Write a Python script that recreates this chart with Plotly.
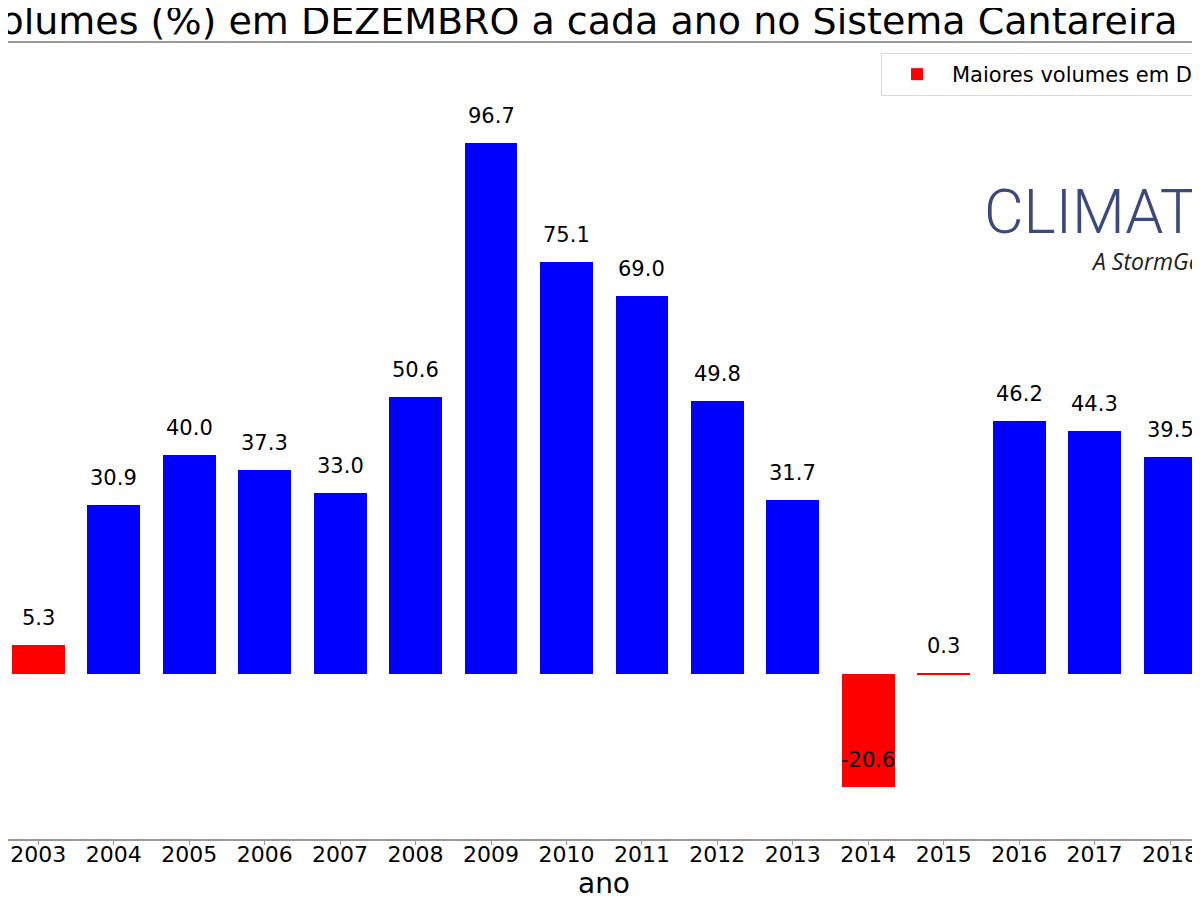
import plotly.graph_objects as go

# dados
anos = [2003, 2004, 2005, 2006, 2007, 2008, 2009, 2010, 2011, 2012,
        2013, 2014, 2015, 2016, 2017, 2018]
volumes = [5.3, 30.9, 40.0, 37.3, 33.0, 50.6, 96.7, 75.1, 69.0, 49.8,
           31.7, -20.6, 0.3, 46.2, 44.3, 39.5]
anos_destaque = [2003, 2014, 2015]

titulo = "Maiores volumes (%) em DEZEMBRO a cada ano no Sistema Cantareira"
legenda = "Maiores volumes em DEZEMBRO"

# the page has an 8px body margin, so the figure is 8px smaller
OFF = 8
W, H = 1200 - OFF, 900 - OFF
top, bottom = 35, 61
plot_h = H - top - bottom
FONT = "DejaVu Sans"


def px(x):
    # screen x -> paper x
    return (x - OFF) / W


def py(y):
    # screen y -> paper y
    return 1 - (y - OFF - top) / plot_h


red_x = [a for a in anos if a in anos_destaque]
red_y = [v for a, v in zip(anos, volumes) if a in anos_destaque]
blue_x = [a for a in anos if a not in anos_destaque]
blue_y = [v for a, v in zip(anos, volumes) if a not in anos_destaque]

fig = go.Figure()

fig.add_trace(go.Bar(
    x=red_x, y=red_y, width=0.7,
    marker=dict(color="#ff0000", line=dict(width=0)),
    name=legenda, showlegend=True
))
fig.add_trace(go.Bar(
    x=blue_x, y=blue_y, width=0.7,
    marker=dict(color="#0000ff", line=dict(width=0)),
    name="volumes", showlegend=False
))

# rotulos em cima das barras
for a, v in zip(anos, volumes):
    fig.add_annotation(
        x=a, y=v, text=f"{v:.1f}", showarrow=False,
        yanchor="middle", yshift=27,
        font=dict(family=FONT, size=21, color="black")
    )

# titulo (cortado a esquerda como no original)
fig.add_annotation(
    xref="paper", yref="paper",
    x=px(1179), y=py(21),
    xanchor="right", yanchor="middle",
    text=titulo, showarrow=False,
    font=dict(family=FONT, size=38, color="black")
)

# logo
fig.add_annotation(
    xref="paper", yref="paper",
    x=px(982), y=py(212),
    xanchor="left", yanchor="middle",
    text="CLIMATEMPO", showarrow=False,
    font=dict(family="Roboto", size=61, color="#3b4a7a", weight=300)
)
fig.add_annotation(
    xref="paper", yref="paper",
    x=px(1089), y=py(261),
    xanchor="left", yanchor="middle",
    text="<i>A StormGeo company</i>", showarrow=False,
    font=dict(family="Open Sans", size=23, color="#222222")
)

fig.update_layout(
    width=W, height=H,
    margin=dict(l=0, r=0, t=top, b=bottom, autoexpand=False),
    plot_bgcolor="white", paper_bgcolor="white",
    bargap=0,
    showlegend=True,
    legend=dict(
        x=px(881), y=py(53),
        xanchor="left", yanchor="top",
        itemwidth=60,
        font=dict(family=FONT, size=21, color="black"),
        bgcolor="white", bordercolor="#d9d9d9", borderwidth=1
    ),
    xaxis=dict(
        range=[2002.598, 2018.397],
        tickmode="array", tickvals=anos, ticktext=[str(a) for a in anos],
        tickfont=dict(family=FONT, size=22, color="black"),
        ticks="outside", ticklen=4, tickcolor="#999999",
        ticklabelstandoff=-9,
        showline=True, linecolor="#999999", linewidth=1.5, mirror=True,
        showgrid=False, zeroline=False,
        title=dict(text="ano", font=dict(family=FONT, size=28, color="black"),
                   standoff=0)
    ),
    yaxis=dict(
        range=[-30, 115],
        showticklabels=False, showgrid=False, zeroline=False,
        showline=False, ticks=""
    )
)

fig.write_html("out.html")
